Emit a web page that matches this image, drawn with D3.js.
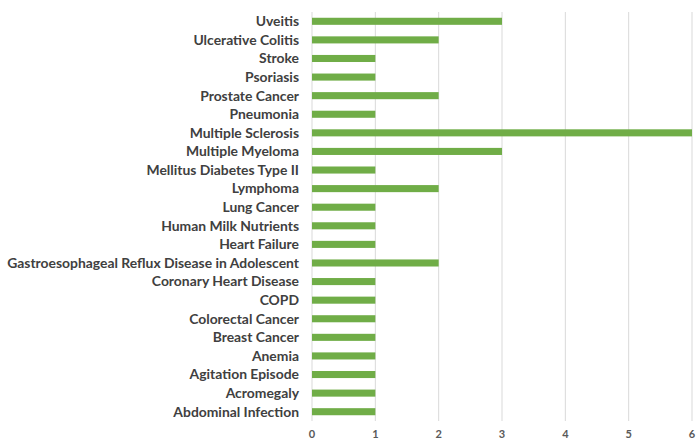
<!DOCTYPE html>
<html><head><meta charset="utf-8">
<script src="https://cdn.jsdelivr.net/npm/d3@7"></script>
<style>body{margin:0;background:#fff}</style>
</head><body>
<svg id="c" width="697" height="441"></svg>
<script>
const categories = ["Uveitis","Ulcerative Colitis","Stroke","Psoriasis","Prostate Cancer","Pneumonia","Multiple Sclerosis","Multiple Myeloma","Mellitus Diabetes Type II","Lymphoma","Lung Cancer","Human Milk Nutrients","Heart Failure","Gastroesophageal Reflux Disease in Adolescent","Coronary Heart Disease","COPD","Colorectal Cancer","Breast Cancer","Anemia","Agitation Episode ","Acromegaly","Abdominal Infection"];
const values = [3,2,1,1,2,1,6,3,1,2,1,1,1,2,1,1,1,1,1,1,1,1];
const xTicks = [0,1,2,3,4,5,6];

(function(){
const svg = d3.select("#c");
const mLeft = 312, mRight = 692, mTop = 12, mBottom = 421;
const x = d3.scaleLinear().domain([0,6]).range([mLeft,mRight]);
const y = d3.scaleBand().domain(categories).range([mTop,mBottom]).paddingInner(0.62).paddingOuter(0.31);

svg.append("g").selectAll("line").data(xTicks).join("line")
  .attr("x1",d=>x(d)).attr("x2",d=>x(d)).attr("y1",mTop).attr("y2",mBottom)
  .attr("stroke","#d9d9d9").attr("stroke-width",1);

svg.append("g").selectAll("rect").data(values).join("rect")
  .attr("x",x(0)).attr("y",(d,i)=>y(categories[i]))
  .attr("width",d=>x(d)-x(0)).attr("height",y.bandwidth())
  .attr("fill","#70ad47");

svg.append("g").selectAll("text").data(categories).join("text")
  .attr("x",299).attr("y",d=>y(d)+y.bandwidth()/2).attr("dy","0.35em")
  .attr("text-anchor","end").attr("font-family","Lato, 'Open Sans', sans-serif")
  .attr("font-weight","bold").attr("font-size","13.9px").attr("fill","#404040")
  .text(d=>d);

svg.append("g").selectAll("text").data(xTicks).join("text")
  .attr("x",d=>x(d)).attr("y",438).attr("text-anchor","middle")
  .attr("font-family","Lato, 'Open Sans', sans-serif").attr("font-weight","bold")
  .attr("font-size","11px").attr("fill","#595959").text(d=>d);
})();
</script>
</body></html>
